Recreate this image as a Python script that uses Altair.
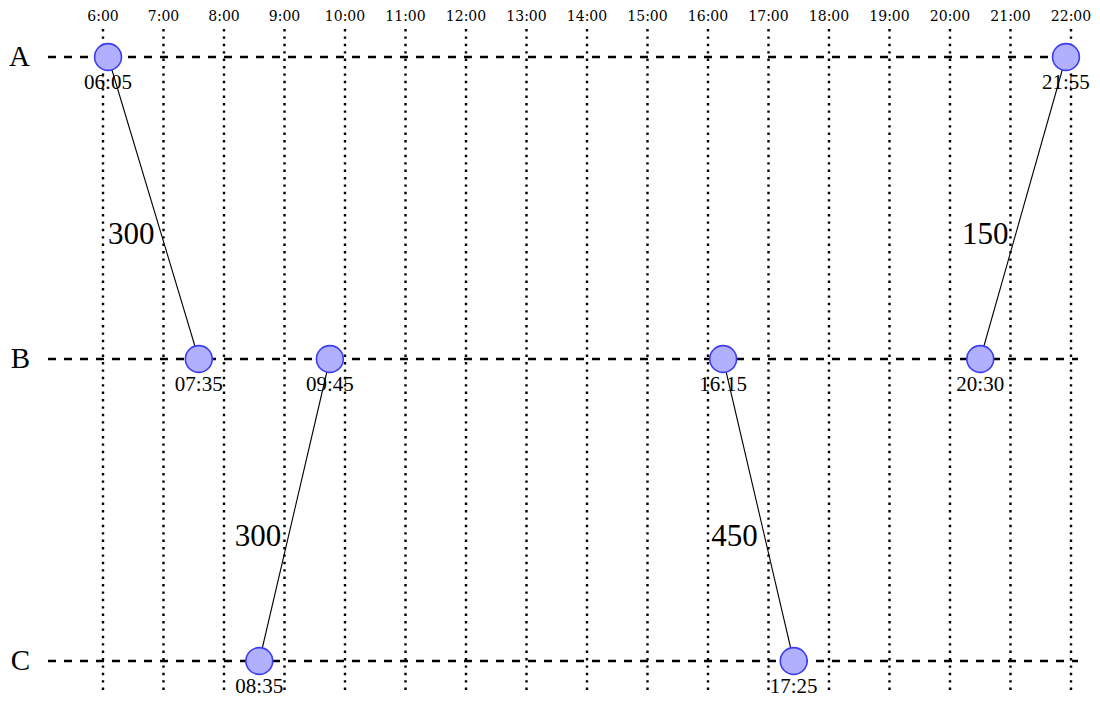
import altair as alt
import pandas as pd

# ---------------- data ----------------
stations = ["A", "B", "C"]
hours = list(range(6, 23))
hour_labels = [f"{h}:00" for h in hours]

stop_times = ["06:05", "07:35", "08:35", "09:45", "16:15", "17:25", "20:30", "21:55"]
stop_stations = ["A", "B", "C", "B", "B", "C", "B", "A"]

seg_from_time = ["06:05", "08:35", "16:15", "20:30"]
seg_from_station = ["A", "C", "B", "B"]
seg_to_time = ["07:35", "09:45", "17:25", "21:55"]
seg_to_station = ["B", "B", "C", "A"]
seg_values = [300, 300, 450, 150]


def to_h(t):
    h, m = t.split(":")
    return int(h) + int(m) / 60.0


idx = {s: i for i, s in enumerate(stations)}

hours_df = pd.DataFrame({"h": hours, "label": hour_labels})
stations_df = pd.DataFrame({"s": list(range(len(stations))), "name": stations})

stops = pd.DataFrame({
    "t": [to_h(t) for t in stop_times],
    "s": [idx[s] for s in stop_stations],
    "label": stop_times,
})

FRAC = 0.59  # where along the segment (from upper station) the value label sits
rows = []
for ft, fs, tt, ts, v in zip(seg_from_time, seg_from_station, seg_to_time, seg_to_station, seg_values):
    a = (to_h(ft), idx[fs])
    b = (to_h(tt), idx[ts])
    up, lo = (a, b) if a[1] < b[1] else (b, a)
    rows.append(dict(
        t1=a[0], s1=a[1], t2=b[0], s2=b[1],
        lt=up[0] + (lo[0] - up[0]) * FRAC,
        ls=up[1] + (lo[1] - up[1]) * FRAC,
        value=str(v),
    ))
segs = pd.DataFrame(rows)

# ---------------- scales ----------------
W, H = 1030, 662
PX_H = 60.5   # px per hour
PX_S = 302.0  # px per station step
x0 = hours[0] - 55 / PX_H
xs = alt.Scale(domain=[x0, x0 + W / PX_H], nice=False, zero=False)
y0 = -28 / PX_S
ys = alt.Scale(domain=[y0, y0 + H / PX_S], nice=False, zero=False, reverse=True)

X = lambda f: alt.X(f, scale=xs, axis=None)
Y = lambda f: alt.Y(f, scale=ys, axis=None)

vgrid = alt.Chart(hours_df).mark_rule(
    color="black", strokeWidth=2.4, strokeDash=[2.4, 5]
).encode(x=X("h:Q"), y=alt.value(0), y2=alt.value(H))

hgrid = alt.Chart(stations_df).mark_rule(
    color="black", strokeWidth=2.6, strokeDash=[8, 8]
).encode(y=Y("s:Q"), x=alt.value(0), x2=alt.value(W))

hour_text = alt.Chart(hours_df).mark_text(
    font="DejaVu Serif", fontSize=14, color="black", baseline="middle", align="center"
).encode(x=X("h:Q"), y=alt.value(-12), text="label:N")

station_text = alt.Chart(stations_df).mark_text(
    font="Liberation Serif", fontSize=29, color="black", baseline="middle", align="right"
).encode(y=Y("s:Q"), x=alt.value(-18), text="name:N")

lines = alt.Chart(segs).mark_rule(color="black", strokeWidth=1.1).encode(
    x=X("t1:Q"), y=Y("s1:Q"), x2="t2:Q", y2="s2:Q",
)

circles = alt.Chart(stops).mark_circle(
    size=720, fill="#b0b0ff", stroke="#3c3cf5", strokeWidth=1.6, opacity=1, fillOpacity=1
).encode(x=X("t:Q"), y=Y("s:Q"))

time_labels = alt.Chart(stops).mark_text(
    dy=26, fontSize=21, font="Liberation Serif", color="black", baseline="middle", align="center"
).encode(x=X("t:Q"), y=Y("s:Q"), text="label:N")

value_labels = alt.Chart(segs).mark_text(
    dx=-7, fontSize=31, font="Liberation Serif", color="black", baseline="middle", align="right"
).encode(x=X("lt:Q"), y=Y("ls:Q"), text="value:N")

chart = alt.layer(
    vgrid, hgrid, hour_text, station_text, lines, circles, time_labels, value_labels
).properties(
    width=W, height=H,
    padding={"left": 40, "top": 21, "right": 14, "bottom": 7},
    autosize=alt.AutoSizeParams(type="none"),
).configure_view(stroke=None)

chart.save("out.html", embed_options={"renderer": "svg", "actions": False})
